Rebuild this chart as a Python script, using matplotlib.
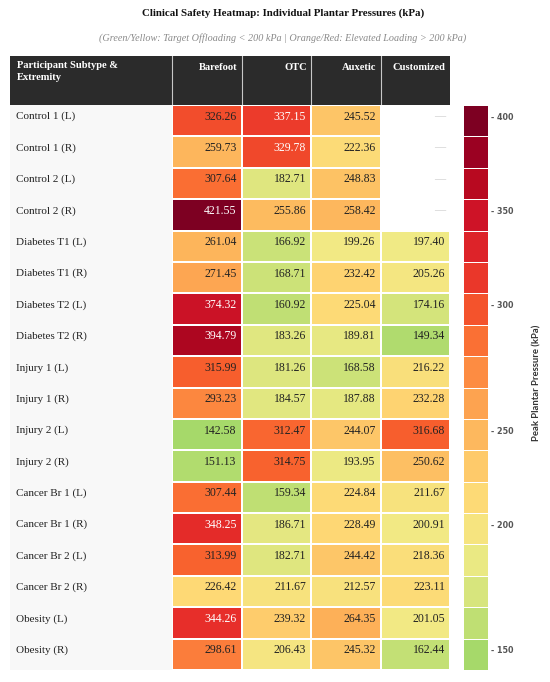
import matplotlib
matplotlib.use('Agg')
import matplotlib.pyplot as plt
import numpy as np
from matplotlib.colors import LinearSegmentedColormap, Normalize

plt.rcParams['font.family'] = ['Liberation Serif', 'DejaVu Serif']

participants = ['Control 1 (L)', 'Control 1 (R)', 'Control 2 (L)', 'Control 2 (R)',
                'Diabetes T1 (L)', 'Diabetes T1 (R)', 'Diabetes T2 (L)', 'Diabetes T2 (R)',
                'Injury 1 (L)', 'Injury 1 (R)', 'Injury 2 (L)', 'Injury 2 (R)',
                'Cancer Br 1 (L)', 'Cancer Br 1 (R)', 'Cancer Br 2 (L)', 'Cancer Br 2 (R)',
                'Obesity (L)', 'Obesity (R)']
conditions = ['Barefoot', 'OTC', 'Auxetic', 'Customized']

barefoot = [326.26, 259.73, 307.64, 421.55, 261.04, 271.45, 374.32, 394.79, 315.99,
            293.23, 142.58, 151.13, 307.44, 348.25, 313.99, 226.42, 344.26, 298.61]
otc = [337.15, 329.78, 182.71, 255.86, 166.92, 168.71, 160.92, 183.26, 181.26,
       184.57, 312.47, 314.75, 159.34, 186.71, 182.71, 211.67, 239.32, 206.43]
auxetic = [245.52, 222.36, 248.83, 258.42, 199.26, 232.42, 225.04, 189.81, 168.58,
           187.88, 244.07, 193.95, 224.84, 228.49, 244.42, 212.57, 264.35, 245.32]
customized = [np.nan, np.nan, np.nan, np.nan, 197.40, 205.26, 174.16, 149.34, 216.22,
              232.28, 316.68, 250.62, 211.67, 200.91, 218.36, 223.11, 201.05, 162.44]

cb_ticks = [400, 350, 300, 250, 200, 150]
cb_tick_rows = [0, 3, 6, 10, 13, 17]

W, H = 550, 682


def box(x0, y0, x1, y1):
    return [x0 / W, 1 - y1 / H, (x1 - x0) / W, (y1 - y0) / H]


vals = np.array([barefoot, otc, auxetic, customized]).T
nrow, ncol = vals.shape
vmin, vmax = np.nanmin(vals), np.nanmax(vals)

cmap = LinearSegmentedColormap.from_list('safety', [
    (0.0, '#a6d96a'), (0.12, '#d8e57d'), (0.2, '#f1ea85'), (0.3, '#fed975'),
    (0.42, '#fdb65c'), (0.53, '#fd8c42'), (0.62, '#f8602d'), (0.72, '#e8302a'),
    (0.82, '#cf1427'), (0.89, '#b5081f'), (0.945, '#990022'), (1.0, '#7d0022')])
norm = Normalize(vmin, vmax)

fig = plt.figure(figsize=(5.5, 6.82), dpi=100)
fig.patch.set_facecolor('white')

fig.text(283 / W, 1 - 13 / H, 'Clinical Safety Heatmap: Individual Plantar Pressures (kPa)',
         ha='center', va='center', fontsize=7.8, fontweight='bold', color='#111111')
fig.text(283 / W, 1 - 38 / H,
         '(Green/Yellow: Target Offloading < 200 kPa | Orange/Red: Elevated Loading > 200 kPa)',
         ha='center', va='center', fontsize=7.3, style='italic', color='#8a8a8a')

# header
col_edges = [10, 172, 241.7, 311.3, 381, 450]
axh = fig.add_axes(box(10, 56, 450, 105))
axh.set_facecolor('#2b2b2b')
axh.set_xlim(10, 450)
axh.set_ylim(105, 56)
axh.set_xticks([])
axh.set_yticks([])
for s in axh.spines.values():
    s.set_visible(False)
for xe in col_edges[1:-1]:
    axh.axvline(xe, color='#c8c8c8', lw=0.8)
axh.text(17, 61, 'Participant Subtype &\nExtremity', ha='left', va='top', color='white',
         fontsize=7.6, fontweight='bold', linespacing=1.45)
for j, name in enumerate(conditions):
    axh.text(col_edges[j + 2] - 4.5, 68, name, ha='right', va='center', color='white',
             fontsize=7.6, fontweight='bold')

# row labels
axl = fig.add_axes(box(10, 105, 172, 670))
axl.set_facecolor('#f8f8f8')
axl.set_xlim(0, 162)
axl.set_ylim(nrow, 0)
axl.set_xticks([])
axl.set_yticks([])
for s in axl.spines.values():
    s.set_visible(False)
for i, lab in enumerate(participants):
    axl.text(6, i + 0.37, lab, ha='left', va='center', fontsize=8, color='#222222')

# heatmap cells
axm = fig.add_axes(box(172, 105, 450, 670))
axm.pcolormesh(np.ma.masked_invalid(vals), cmap=cmap, norm=norm,
               edgecolors='white', linewidth=1.4)
axm.set_xlim(0, ncol)
axm.set_ylim(nrow, 0)
axm.axis('off')
for i in range(nrow):
    for j in range(ncol):
        v = vals[i, j]
        if np.isnan(v):
            axm.text(j + 0.93, i + 0.37, '\u2014', ha='right', va='center',
                     fontsize=8, color='#c4c4c4')
            continue
        tc = 'white' if norm(v) > 0.665 else '#222222'
        axm.text(j + 0.93, i + 0.37, f'{v:.2f}', ha='right', va='center',
                 fontsize=8.5, color=tc)

# colour legend
axc = fig.add_axes(box(463, 105, 488, 670))
cb_vals = np.linspace(vmax, vmin, nrow).reshape(-1, 1)
axc.pcolormesh(cb_vals, cmap=cmap, norm=norm, edgecolors='#ffffff', linewidth=0.7)
axc.set_xlim(0, 1)
axc.set_ylim(nrow, 0)
axc.set_xticks([])
axc.yaxis.tick_right()
axc.set_yticks([r + 0.36 for r in cb_tick_rows])
axc.set_yticklabels([f'- {t}' for t in cb_ticks], fontsize=5.8, fontweight='bold',
                    color='#555555', family='DejaVu Sans')
axc.tick_params(axis='y', length=0, pad=2)
for s in axc.spines.values():
    s.set_visible(False)

fig.text(537 / W, 1 - 383 / H, 'Peak Plantar Pressure (kPa)', rotation=90,
         ha='center', va='center', fontsize=6.8, fontweight='bold', color='#333333',
         family=['Lato', 'DejaVu Sans'])

fig.savefig('out.png', dpi=100, facecolor='white')
